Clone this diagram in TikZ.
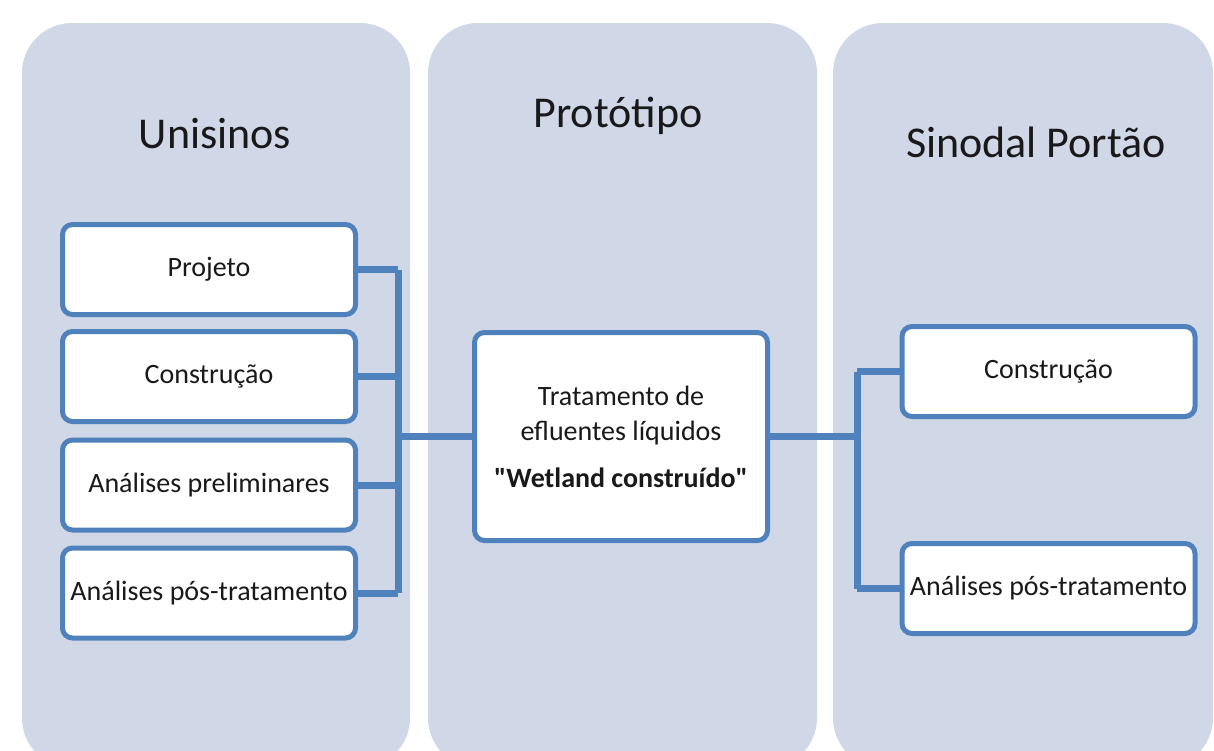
\documentclass[tikz,border=0pt]{standalone}
\usepackage{fontspec}
\setmainfont{Carlito}[Ligatures = TeXOff]
\usepackage{xcolor}
\usepackage{tikz}
\usetikzlibrary{positioning, shapes.misc, backgrounds}
\definecolor{panelblue}{HTML}{D0D8E8}
\definecolor{boxblue}{HTML}{4F81BD}
\tikzset{ 
panel/.style = { draw = none, fill = panelblue, rounded corners = 25pt },
title/.style = { anchor = base, font = \fontsize{22}{26}\selectfont, text = black!90 },
item/.style = { rectangle, draw = boxblue, line width = 2.5pt, fill = white, minimum width = 146.5pt, minimum height = 45pt, rounded corners = 5pt, font = \fontsize{14}{17.5}\selectfont, text = black!90 },
link/.style = { draw = boxblue, line width = 3.5pt },
}

\begin{document}
\begin{tikzpicture}[x = 0.5pt, y = -0.5pt]
    \clip (0, 0) rectangle (1214, 750);
    \fill[white] (0, 0) rectangle (1214, 750);
    \path[panel] (22, 23) rectangle (410, 768);
    \path[panel] (428, 23) rectangle (817, 768);
    \path[panel] (833, 23) rectangle (1213, 768);
    \node[title] (unisinos) at (215, 148) {Unisinos};
    \node[title] (prototipo) at (618, 127) {Protótipo};
    \node[title] (sinodal) at (1036, 157) {Sinodal Portão};
    % Unisinos
    \node[item] (projeto) at (209, 269.5) {Projeto};
    \node[item] (construcaoA) at (209, 376.5) {Construção};
    \node[item] (preliminares) at (209, 485) {Análises preliminares};
    \node[item] (posA) at (209, 593) {Análises pós-tratamento};
    % Protótipo
    \node[item, minimum height = 104pt, align = center] (wetland) at (621, 436.5) {Tratamento de\\efluentes líquidos\\[6pt]\textbf{"Wetland construído"}};
    % Sinodal Portão
    \node[item] (construcaoB) at (1048.5, 371.5) {Construção};
    \node[item] (posB) at (1048.5, 588.5) {Análises pós-tratamento};
    % barramentos
    \coordinate (busA) at (398, 436.5);
    \coordinate (busB) at (857, 436.5);
    \draw[link] (projeto.east -| busA) -- (posA.east -| busA);
    \draw[link] (construcaoB.west -| busB) -- (posB.west -| busB);
    \foreach \n in {projeto, construcaoA, preliminares, posA}
        \draw[link] (\n.east) -- (\n.east -| busA);
    \foreach \n in {construcaoB, posB}
        \draw[link] (\n.west) -- (\n.west -| busB);
    \draw[link] (busA) -- (wetland.west);
    \draw[link] (wetland.east) -- (busB);
\end{tikzpicture}
\end{document}
